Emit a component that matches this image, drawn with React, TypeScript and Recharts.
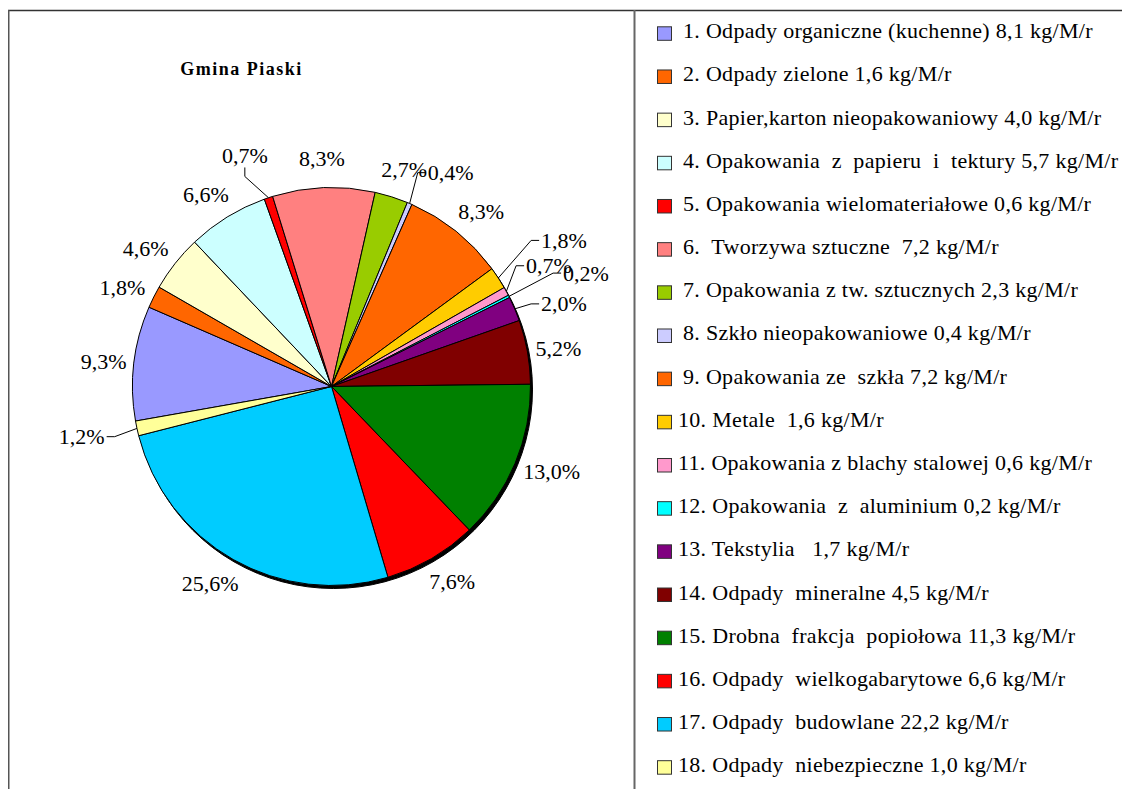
import { PieChart, Pie, Cell, Legend } from 'recharts';

const wasteNames = [
  'Odpady organiczne (kuchenne)',
  'Odpady zielone',
  'Papier,karton nieopakowaniowy',
  'Opakowania  z  papieru  i  tektury',
  'Opakowania wielomateriałowe',
  ' Tworzywa sztuczne ',
  'Opakowania z tw. sztucznych',
  'Szkło nieopakowaniowe',
  'Opakowania ze  szkła',
  'Metale ',
  'Opakowania z blachy stalowej',
  'Opakowania  z  aluminium',
  'Tekstylia  ',
  'Odpady  mineralne',
  'Drobna  frakcja  popiołowa',
  'Odpady  wielkogabarytowe',
  'Odpady  budowlane',
  'Odpady  niebezpieczne',
];

// kg per inhabitant per month (legend)
const kgValues = [8.1, 1.6, 4.0, 5.7, 0.6, 7.2, 2.3, 0.4, 7.2, 1.6, 0.6, 0.2, 1.7, 4.5, 11.3, 6.6, 22.2, 1.0];

// share in % (slice labels)
const shares = [9.3, 1.8, 4.6, 6.6, 0.7, 8.3, 2.7, 0.4, 8.3, 1.8, 0.7, 0.2, 2.0, 5.2, 13.0, 7.6, 25.6, 1.2];

const colors = [
  '#9999FF', '#FF6600', '#FFFFCC', '#CCFFFF', '#FF0000', '#FF8080',
  '#99CC00', '#CCCCFF', '#FF6600', '#FFCC00', '#FF99CC', '#00FFFF',
  '#800080', '#800000', '#008000', '#FF0000', '#00CCFF', '#FFFF99',
];

// small slices whose labels sit further out with a leader line
const leaderLabels: Record<number, { shift: number; dist: number }> = {
  4: { shift: 2.1, dist: 1.24 },
  7: { shift: -6, dist: 1.23 },
  9: { shift: -0.9, dist: 1.38 },
  10: { shift: 0.5, dist: 1.25 },
  11: { shift: -2.9, dist: 1.4 },
  12: { shift: -3.4, dist: 1.24 },
  17: { shift: -0.8, dist: 1.28 },
};

const W = 1122;
const H = 781;
const CX = 323.5;
const CY = 378.5;
const R = 199;
const FONT = '"Liberation Serif", "Times New Roman", serif';
const RAD = Math.PI / 180;

const fmt = (v: number) => v.toFixed(1).replace('.', ',');

const data = wasteNames.map((name, i) => ({
  name: `${i + 1}. ${name} ${fmt(kgValues[i])} kg/M/r`,
  value: shares[i],
}));

const textWidth = (s: string) =>
  s.split('').reduce((w, ch) => w + (ch === ',' ? 0.25 : ch === '%' ? 0.83 : 0.5), 0) * 22;

const renderLabel = (props: any) => {
  const { cx, cy, midAngle, outerRadius, index } = props;
  const text = `${fmt(shares[index])}%`;
  const hw = textWidth(text) / 2;
  const hh = 9;
  const lead = leaderLabels[index];
  const c = Math.cos(-midAngle * RAD);
  const s = Math.sin(-midAngle * RAD);
  const style = { fontFamily: FONT, fontSize: 22, fill: '#000' };

  if (!lead) {
    const rr = outerRadius + 6 + 14 * Math.abs(s);
    const x = cx + rr * c + hw * c;
    const y = cy + rr * s + hh * s;
    return (
      <text key={`l-${index}`} x={x} y={y} textAnchor="middle" dominantBaseline="central" style={style}>
        {text}
      </text>
    );
  }

  const a = (midAngle + lead.shift) * RAD;
  const tx = cx + outerRadius * lead.dist * Math.cos(-a);
  const ty = cy + outerRadius * lead.dist * Math.sin(-a);
  const p0x = cx + outerRadius * c;
  const p0y = cy + outerRadius * s;
  let pts: number[][];
  if (Math.abs(Math.cos(a)) > 0.45) {
    const sx = Math.sign(Math.cos(a));
    const ex = tx - sx * (hw + 2);
    pts = [[p0x, p0y], [ex - sx * 8, ty], [ex, ty]];
  } else {
    const ey = ty + hh + 3;
    pts = [[p0x, p0y], [tx, ey + 9], [tx, ey]];
  }
  return (
    <g key={`l-${index}`}>
      <polyline points={pts.map((p) => p.join(',')).join(' ')} fill="none" stroke="#000" strokeWidth={1} />
      <text x={tx} y={ty} textAnchor="middle" dominantBaseline="central" style={style}>
        {text}
      </text>
    </g>
  );
};

const LegendList = () => (
  <svg width={W} height={H} style={{ position: 'absolute', left: 0, top: 0, pointerEvents: 'none' }}>
    {data.map((d, i) => {
      const base = 30.3 + 43.17 * i;
      return (
        <g key={d.name}>
          <rect x={649.5} y={base - 11.5} width={14} height={13.5} fill={colors[i]} stroke="#333" strokeWidth={1} />
          <text
            x={i < 9 ? 675 : 670}
            y={base}
            style={{ fontFamily: FONT, fontSize: 22, letterSpacing: 0.3, whiteSpace: 'pre' }}
            fill="#000"
          >
            {d.name}
          </text>
        </g>
      );
    })}
  </svg>
);

export default function App() {
  return (
    <div style={{ position: 'relative', width: W, height: H, background: '#fff' }}>
      <PieChart width={W} height={H} margin={{ top: 0, right: 0, bottom: 0, left: 0 }}>
        <Pie
          data={[{ name: 'depth', value: 1 }]}
          dataKey="value"
          cx={CX + 2}
          cy={CY + 3}
          outerRadius={R}
          fill="#000"
          stroke="#000"
          legendType="none"
          isAnimationActive={false}
        />
        <Pie
          data={data}
          dataKey="value"
          nameKey="name"
          cx={CX}
          cy={CY}
          outerRadius={R}
          startAngle={190}
          endAngle={-170}
          stroke="#000"
          strokeWidth={1}
          label={renderLabel}
          labelLine={false}
          isAnimationActive={false}
        >
          {data.map((d, i) => (
            <Cell key={d.name} fill={colors[i]} />
          ))}
        </Pie>
        <Legend content={<LegendList />} wrapperStyle={{ position: 'absolute', left: 0, top: 0, width: W, height: H }} />
      </PieChart>
      <svg width={W} height={H} style={{ position: 'absolute', left: 0, top: 0, pointerEvents: 'none' }}>
        <line x1={0} y1={2.5} x2={W} y2={2.5} stroke="#333" strokeWidth={1.5} />
        <line x1={0.5} y1={2} x2={0.5} y2={H} stroke="#555" strokeWidth={2} />
        <line x1={626.5} y1={2} x2={626.5} y2={H} stroke="#666" strokeWidth={2} />
        <text
          x={233.5}
          y={67}
          textAnchor="middle"
          style={{ fontFamily: FONT, fontSize: 18, fontWeight: 'bold', letterSpacing: 1.5 }}
        >
          Gmina Piaski
        </text>
      </svg>
    </div>
  );
}
